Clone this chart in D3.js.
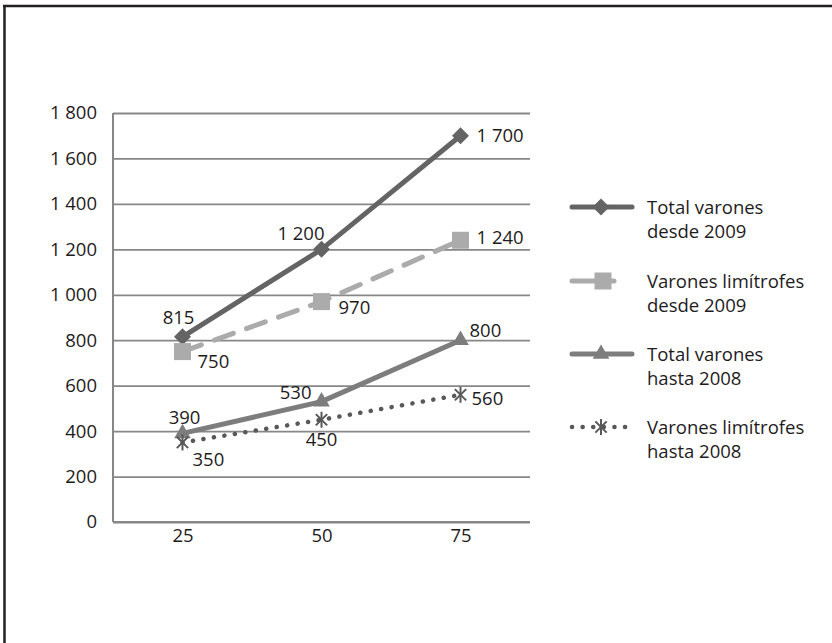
<!DOCTYPE html>
<html>
<head>
<meta charset="utf-8">
<script src="https://cdn.jsdelivr.net/npm/d3@7"></script>
<style>
  body { margin: 0; background: #fff; }
  svg text { font-family: "Open Sans", "Noto Sans", sans-serif; fill: #1e1b1c; }
</style>
</head>
<body>
<svg id="chart" width="832" height="643"></svg>
<script>
const categories = ["25", "50", "75"];
const yTicks = [0, 200, 400, 600, 800, 1000, 1200, 1400, 1600, 1800];

const totalDesde2009 = [815, 1200, 1700];
const limitrofesDesde2009 = [750, 970, 1240];
const totalHasta2008 = [390, 530, 800];
const limitrofesHasta2008 = [350, 450, 560];

const seriesNames = [
  ["Total varones", "desde 2009"],
  ["Varones limítrofes", "desde 2009"],
  ["Total varones", "hasta 2008"],
  ["Varones limítrofes", "hasta 2008"]
];

// where each value label sits next to its point: [dx, dy, anchor]
const labelPos = [
  [[-4, -19, "middle"], [3, -16, "end"], [16, 0, "start"]],
  [[15, 10, "start"], [17, 6, "start"], [16, -3, "start"]],
  [[2, -16, "middle"], [-10, -9, "end"], [9, -10, "start"]],
  [[10, 17, "start"], [0, 20, "middle"], [11, 4, "start"]]
];

const fmt = v => {
  const s = String(v);
  return s.length > 3 ? s.slice(0, s.length - 3) + " " + s.slice(-3) : s;
};

const FONT = 18.5;

const series = [
  { values: totalDesde2009, color: "#646464", width: 5, dash: null, marker: "diamond" },
  { values: limitrofesDesde2009, color: "#ababab", width: 5, dash: "20,14", marker: "square" },
  { values: totalHasta2008, color: "#7d7d7d", width: 5, dash: null, marker: "triangle" },
  { values: limitrofesHasta2008, color: "#585858", width: 4.5, dash: "0.1,10.5", marker: "star" }
];

const svg = d3.select("#chart");

// frame (cropped: only top and left edges visible)
svg.append("line").attr("x1", 3).attr("x2", 832).attr("y1", 6).attr("y2", 6)
  .attr("stroke", "#231f20").attr("stroke-width", 2.5);
svg.append("line").attr("x1", 4.5).attr("x2", 4.5).attr("y1", 5).attr("y2", 643)
  .attr("stroke", "#231f20").attr("stroke-width", 2.5);

const plotLeft = 113, plotRight = 530, plotTop = 113, plotBottom = 522;

const x = d3.scalePoint().domain(categories).range([plotLeft, plotRight]).padding(0.5);
const y = d3.scaleLinear().domain([0, 1800]).range([plotBottom, plotTop]);

// gridlines
const yAxis = d3.axisLeft(y).tickValues(yTicks).tickSize(-(plotRight - plotLeft)).tickPadding(16).tickFormat(fmt);
const gy = svg.append("g").attr("transform", `translate(${plotLeft},0)`).call(yAxis);
gy.select(".domain").remove();
gy.selectAll(".tick line").attr("stroke", "#878787").attr("stroke-width", 1.8);
gy.selectAll(".tick text").attr("font-size", FONT).attr("fill", "#1e1b1c")
  .attr("font-family", "Open Sans, Noto Sans, sans-serif");

// axis lines
svg.append("line").attr("x1", plotLeft).attr("x2", plotLeft).attr("y1", plotTop).attr("y2", plotBottom)
  .attr("stroke", "#878787").attr("stroke-width", 2);
svg.append("line").attr("x1", plotLeft).attr("x2", plotRight).attr("y1", plotBottom).attr("y2", plotBottom)
  .attr("stroke", "#878787").attr("stroke-width", 2);

const xAxis = d3.axisBottom(x).tickSize(0).tickPadding(7);
const gx = svg.append("g").attr("transform", `translate(0,${plotBottom})`).call(xAxis);
gx.select(".domain").remove();
gx.selectAll(".tick text").attr("font-size", FONT).attr("fill", "#1e1b1c")
  .attr("font-family", "Open Sans, Noto Sans, sans-serif");

function drawMarker(g, type, color, cx, cy) {
  if (type === "diamond") {
    g.append("rect").attr("x", -6).attr("y", -6).attr("width", 12).attr("height", 12)
      .attr("transform", `translate(${cx},${cy}) rotate(45)`).attr("fill", color);
  } else if (type === "square") {
    g.append("rect").attr("x", cx - 8.5).attr("y", cy - 8.5).attr("width", 17).attr("height", 17)
      .attr("fill", color);
  } else if (type === "triangle") {
    g.append("path").attr("d", d3.symbol(d3.symbolTriangle, 120)())
      .attr("transform", `translate(${cx},${cy})`).attr("fill", color);
  } else if (type === "star") {
    const r = 8;
    [0, 45, 135].forEach(a => {
      const rad = a * Math.PI / 180;
      g.append("line")
        .attr("x1", cx - r * Math.sin(rad)).attr("y1", cy - r * Math.cos(rad))
        .attr("x2", cx + r * Math.sin(rad)).attr("y2", cy + r * Math.cos(rad))
        .attr("stroke", color).attr("stroke-width", 2);
    });
  }
}

const line = d3.line().x((d, i) => x(categories[i])).y(d => y(d));

series.forEach((s, si) => {
  const g = svg.append("g");
  g.append("path").datum(s.values).attr("d", line)
    .attr("fill", "none").attr("stroke", s.color).attr("stroke-width", s.width)
    .attr("stroke-linecap", "round")
    .attr("stroke-dasharray", s.dash);
  s.values.forEach((v, i) => drawMarker(g, s.marker, s.color, x(categories[i]), y(v)));
});

// value labels on top
series.forEach((s, si) => {
  s.values.forEach((v, i) => {
    const [dx, dy, anchor] = labelPos[si][i];
    svg.append("text").attr("x", x(categories[i]) + dx).attr("y", y(v) + dy)
      .attr("dy", "0.36em").attr("text-anchor", anchor).attr("font-size", FONT)
      .text(fmt(v));
  });
});

// legend
const legendY = [207, 281, 354, 427];
series.forEach((s, si) => {
  const g = svg.append("g").attr("transform", `translate(0,${legendY[si]})`);
  g.append("line").attr("x1", 572).attr("x2", si === 1 ? 614 : 632).attr("y1", 0).attr("y2", 0)
    .attr("stroke", s.color).attr("stroke-width", s.width).attr("stroke-linecap", "round")
    .attr("stroke-dasharray", si === 1 ? null : s.dash);
  drawMarker(g, s.marker, s.color, si === 1 ? 603 : 601, 0);
  const t = g.append("text").attr("x", 647).attr("y", 7).attr("font-size", FONT);
  seriesNames[si].forEach((ln, k) => {
    t.append("tspan").attr("x", 647).attr("dy", k === 0 ? 0 : 24).text(ln);
  });
});
</script>
</body>
</html>
